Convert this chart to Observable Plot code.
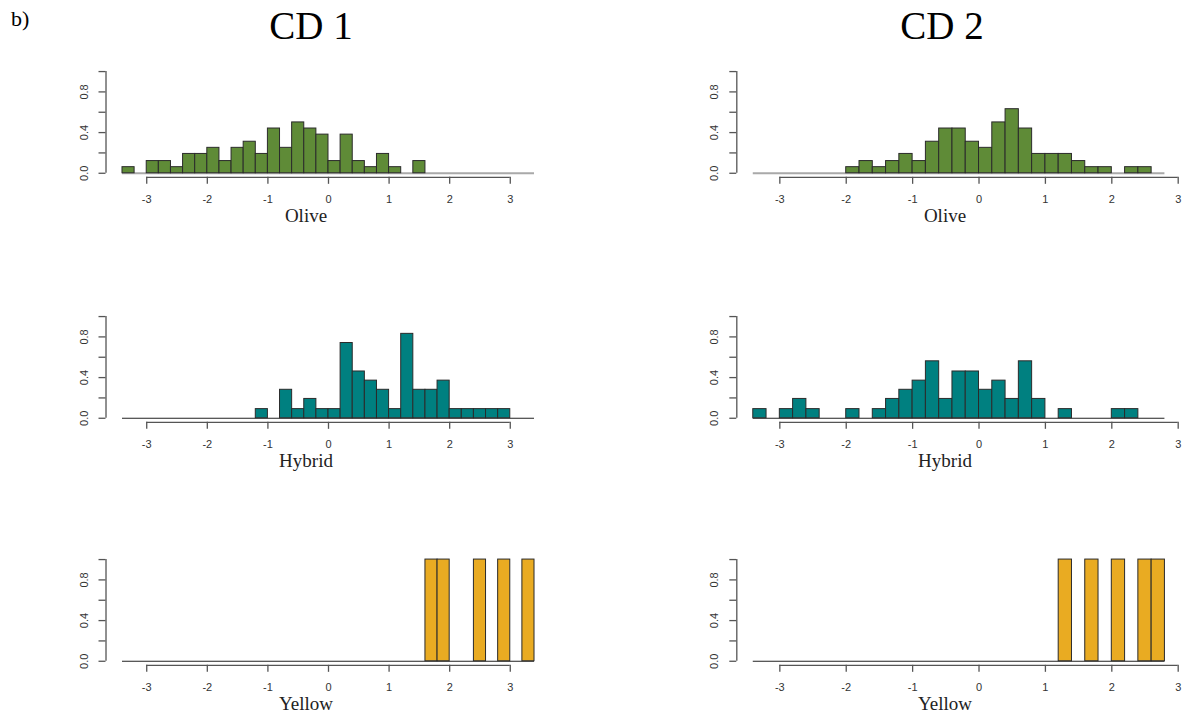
<!DOCTYPE html>
<html><head><meta charset="utf-8">
<script src="https://cdn.jsdelivr.net/npm/d3@7"></script>
<script src="https://cdn.jsdelivr.net/npm/@observablehq/plot@0.6"></script>
<style>
html,body{margin:0;padding:0;background:#fff;}
#root{position:relative;width:1193px;height:724px;overflow:hidden;background:#fff;}
#root > div.panel{position:absolute;}
</style></head><body><div id="root"></div>
<script>
// ---------- data (density histograms, bin width 0.2) ----------
const binWidth = 0.2;
const cd1BinStart = -3.4;   // 34 bins: -3.4 .. 3.4
const cd2BinStart = -3.4;   // 31 bins: -3.4 .. 2.8
const xTicks = [-3, -2, -1, 0, 1, 2, 3];
const yTicks = [0, 0.2, 0.4, 0.6, 0.8, 1.0];
const yTickLabels = [0, 0.4, 0.8];
const panelTag = "b)";
const columnTitles = ["CD 1", "CD 2"];
const groupNames = ["Olive", "Hybrid", "Yellow"];
const groupColors = ["#5f8b37", "#008080", "#e9ab22"];

const cd1Olive = [0.06,0,0.12,0.12,0.06,0.19,0.19,0.25,0.12,0.25,0.31,0.19,0.44,0.25,0.5,0.44,0.38,0.12,0.38,0.12,0.06,0.19,0.06,0,0.12,0,0,0,0,0,0,0,0,0];
const cd2Olive = [0,0,0,0,0,0,0,0.06,0.12,0.06,0.12,0.19,0.12,0.31,0.44,0.44,0.31,0.25,0.5,0.63,0.44,0.19,0.19,0.19,0.12,0.06,0.06,0,0.06,0.06,0];
const cd1Hybrid = [0,0,0,0,0,0,0,0,0,0,0,0.09,0,0.28,0.09,0.19,0.09,0.09,0.74,0.46,0.37,0.28,0.09,0.83,0.28,0.28,0.37,0.09,0.09,0.09,0.09,0.09,0,0];
const cd2Hybrid = [0.09,0,0.09,0.19,0.09,0,0,0.09,0,0.09,0.19,0.28,0.37,0.56,0.19,0.46,0.46,0.28,0.37,0.19,0.56,0.19,0,0.09,0,0,0,0.09,0.09,0,0];
const cd1Yellow = [0,0,0,0,0,0,0,0,0,0,0,0,0,0,0,0,0,0,0,0,0,0,0,0,0,1,1,0,0,1,0,1,0,1];
const cd2Yellow = [0,0,0,0,0,0,0,0,0,0,0,0,0,0,0,0,0,0,0,0,0,0,0,1,0,1,0,1,0,1,1];

// ---------- layout ----------
const K = 101.7;                         // px per density unit
const rowZero = [172.7, 417.5, 661];     // pixel of density 0 per row
const columns = [
  {left: 0,   width: 596, xDomain: [-3.672, 3.672], axisPx: 105.5, rightPx: 550.5, start: cd1BinStart, labelX: 306, titleX: 311},
  {left: 596, width: 597, xDomain: [-3.648, 3.048], axisPx: 736.3, rightPx: 1180.9, start: cd2BinStart, labelX: 945, titleX: 942}
];
const series = [[cd1Olive, cd1Hybrid, cd1Yellow], [cd2Olive, cd2Hybrid, cd2Yellow]];
const baseStyles = [{stroke: "#a9a9a9", w: 2}, {stroke: "#222", w: 1.2}, {stroke: "#222", w: 1.2}];

const root = d3.select("#root");

function panel(values, col, row) {
  const c = columns[col];
  const bins = values.map((d, i) => ({x1: c.start + i * binWidth, x2: c.start + (i + 1) * binWidth, d}));
  const lo = c.start, hi = c.start + values.length * binWidth;
  const plotTop = rowZero[row] - 1.04 * K, plotBottom = rowZero[row] + 0.04 * K;
  const mt = 20, mb = 40;
  const svgTop = plotTop - mt;
  const height = (plotBottom - plotTop) + mt + mb;
  const bs = baseStyles[row];
  const p = Plot.plot({
    width: c.width, height,
    marginLeft: c.axisPx - c.left, marginRight: c.left + c.width - c.rightPx,
    marginTop: mt, marginBottom: mb,
    x: {domain: c.xDomain, axis: null},
    y: {domain: [-0.04, 1.04], axis: null},
    style: {background: "transparent", overflow: "visible", fontFamily: "'Liberation Sans', Arial, sans-serif", fontSize: "11px", color: "#333"},
    marks: [
      Plot.ruleY([{y: 0, x1: lo, x2: hi}], {y: "y", x1: "x1", x2: "x2", stroke: bs.stroke, strokeWidth: bs.w}),
      Plot.rect(bins.filter(b => b.d > 0), {x1: "x1", x2: "x2", y1: 0, y2: "d", fill: groupColors[row], stroke: "#2b2b2b", strokeWidth: 1}),
      Plot.ruleY([{y: -0.04, x1: xTicks[0], x2: xTicks[xTicks.length - 1]}], {y: "y", x1: "x1", x2: "x2", stroke: "#555", strokeWidth: 1.3}),
      Plot.ruleX([{x: c.xDomain[0], y1: 0, y2: 1}], {x: "x", y1: "y1", y2: "y2", stroke: "#555", strokeWidth: 1.3}),
      Plot.axisX(xTicks, {tickSize: 7, tickPadding: 11, tickFormat: d => String(d), label: null, stroke: "#555", strokeWidth: 1.3, fill: "#333", fontSize: 11}),
      Plot.axisY(yTicks, {tickSize: 7, tickFormat: () => "", label: null, stroke: "#555", strokeWidth: 1.3}),
      Plot.text(yTickLabels, {y: d => d, frameAnchor: "left", dx: -22, rotate: -90, text: d => d.toFixed(1), textAnchor: "middle", fontSize: 11, fill: "#333"})
    ]
  });
  root.append("div").attr("class", "panel")
    .style("left", c.left + "px").style("top", svgTop + "px")
    .node().appendChild(p);
}

for (let col = 0; col < 2; col++)
  for (let row = 0; row < 3; row++)
    panel(series[col][row], col, row);

// ---------- titles & axis names ----------
const ov = root.append("svg").attr("width", 1193).attr("height", 724)
  .style("position", "absolute").style("left", 0).style("top", 0).style("pointer-events", "none")
  .style("font-family", "'Liberation Serif', 'Times New Roman', serif");
ov.append("text").attr("x", 11).attr("y", 26).attr("font-size", 22).attr("fill", "#000").text(panelTag);
columns.forEach((c, i) => {
  ov.append("text").attr("x", c.titleX).attr("y", 39).attr("text-anchor", "middle").attr("font-size", 39).attr("fill", "#000").text(columnTitles[i]);
  groupNames.forEach((g, r) => {
    ov.append("text").attr("x", c.labelX).attr("y", rowZero[r] + 49).attr("text-anchor", "middle").attr("font-size", 19).attr("fill", "#222").text(g);
  });
});
</script>
</body></html>
